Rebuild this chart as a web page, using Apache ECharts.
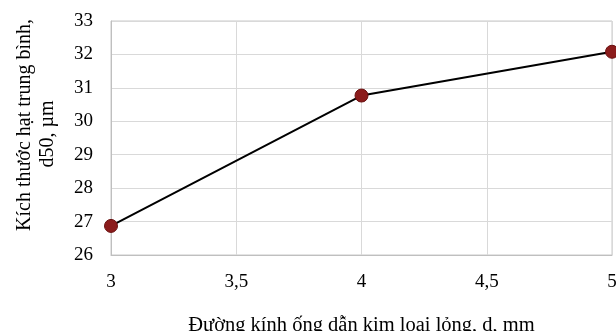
<!DOCTYPE html>
<html>
<head>
<meta charset="utf-8">
<script src="https://cdn.jsdelivr.net/npm/echarts@6/dist/echarts.min.js"></script>
<style>
html,body{margin:0;padding:0;background:#fff;}
#c{width:616px;height:331px;}
</style>
</head>
<body>
<div id="c"></div>
<script>
const xValues = [3, 4, 5];
const yValues = [26.87, 30.77, 32.08];
const xTicks = ['3', '3,5', '4', '4,5', '5'];
const xTitle = 'Đường kính ống dẫn kim loại lỏng, d, mm';
const yTitleLines = ['Kích thước hạt trung bình,', 'd50, µm'];

const font = '"Liberation Serif", "DejaVu Serif", serif';
const chart = echarts.init(document.getElementById('c'), null, {renderer: 'canvas'});
chart.setOption({
  animation: false,
  backgroundColor: '#fff',
  grid: {left: 111, right: 4, top: 21, bottom: 76, containLabel: false, outerBoundsMode: 'none',
    show: true, borderColor: '#c8c8c8', borderWidth: 1},
  graphic: [
    {type: 'text', x: 25, y: 125, rotation: Math.PI / 2,
      style: {text: yTitleLines[0], font: '20px ' + font, fill: '#000', align: 'center', verticalAlign: 'middle'}},
    {type: 'text', x: 48, y: 134, rotation: Math.PI / 2,
      style: {text: yTitleLines[1], font: '20px ' + font, fill: '#000', align: 'center', verticalAlign: 'middle'}}
  ],
  xAxis: {
    type: 'value', min: 3, max: 5, interval: 0.5,
    name: xTitle, nameLocation: 'middle', nameGap: 60,
    nameTextStyle: {fontFamily: font, fontSize: 20.5, color: '#000'},
    axisLine: {show: true, lineStyle: {color: '#bfbfbf', width: 1}},
    axisTick: {show: false},
    axisLabel: {fontFamily: font, fontSize: 19, color: '#000', margin: 18,
      formatter: function (v) { const i = Math.round((v - 3) / 0.5); return xTicks[i] !== undefined ? xTicks[i] : String(v).replace('.', ','); }},
    splitLine: {show: true, lineStyle: {color: '#d9d9d9', width: 1}}
  },
  yAxis: {
    type: 'value', min: 26, max: 33, interval: 1,
    axisLine: {show: true, lineStyle: {color: '#bfbfbf', width: 1}},
    axisTick: {show: false},
    axisLabel: {fontFamily: font, fontSize: 19, color: '#000', margin: 18},
    splitLine: {show: true, lineStyle: {color: '#d9d9d9', width: 1}}
  },
  series: [{
    type: 'line',
    data: xValues.map((x, i) => [x, yValues[i]]),
    symbol: 'circle', symbolSize: 13,
    clip: false,
    lineStyle: {color: '#000', width: 2},
    itemStyle: {color: '#8b1c1c', borderColor: '#6a1010', borderWidth: 1}
  }]
});
</script>
</body>
</html>
